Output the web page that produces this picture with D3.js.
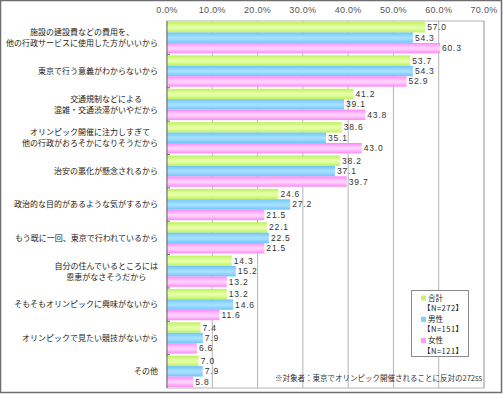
<!DOCTYPE html>
<html>
<head>
<meta charset="utf-8">
<script src="https://cdn.jsdelivr.net/npm/d3@7"></script>
<style>
  body { margin: 0; background: #fff; }
  svg text { font-family: "Noto Sans CJK JP", "Noto Sans", sans-serif; }
  svg text.num { font-family: "Liberation Sans", Arial, sans-serif; }
</style>
</head>
<body>
<div id="chart"></div>
<script>
(function(){

let categories = [
  ["施設の建設費などの費用を、", "他の行政サービスに使用した方がいいから"],
  ["東京で行う意義がわからないから"],
  ["交通規制などによる", "混雑・交通渋滞がいやだから"],
  ["オリンピック開催に注力しすぎて", "他の行政がおろそかになりそうだから"],
  ["治安の悪化が懸念されるから"],
  ["政治的な目的があるような気がするから"],
  ["もう既に一回、東京で行われているから"],
  ["自分の住んでいるところには", "恩恵がなさそうだから"],
  ["そもそもオリンピックに興味がないから"],
  ["オリンピックで見たい競技がないから"],
  ["その他"]
];
let totalValues  = [57.0, 53.7, 41.2, 38.6, 38.2, 24.6, 22.1, 14.3, 13.2, 7.4, 7.0];
let maleValues   = [54.3, 54.3, 39.1, 35.1, 37.1, 27.2, 22.5, 15.2, 14.6, 7.9, 7.9];
let femaleValues = [60.3, 52.9, 43.8, 43.0, 39.7, 21.5, 21.5, 13.2, 11.6, 6.6, 5.8];
let seriesNames  = ["合計", "男性", "女性"];
let seriesN      = ["【N=272】", "【N=151】", "【N=121】"];
let xTicks       = [0, 10, 20, 30, 40, 50, 60, 70];
let footnote     = "※対象者：東京でオリンピック開催されることに反対の272ss";

let series = [totalValues, maleValues, femaleValues];
let colors = [
  {edge: "#bff05c", mid: "#e4ffa8", key: "#c6f36a"},
  {edge: "#6cc6fb", mid: "#a6deff", key: "#7ccfff"},
  {edge: "#fb8af2", mid: "#ffd0ff", key: "#ff99ff"}
];

let W = 503, H = 394;
let margin = {top: 21, right: 19, bottom: 6, left: 167},
  width = 484 - margin.left,
  height = 388 - margin.top;

let svg = d3.select("#chart").append("svg")
  .attr("width", W)
  .attr("height", H);

// outer frame
svg.append("rect")
  .attr("x", 0.5).attr("y", 0.5)
  .attr("width", W - 2).attr("height", H - 2)
  .attr("fill", "#fff")
  .attr("stroke", "#6e6e6e")
  .attr("stroke-width", 1.5);

let defs = svg.append("defs");
colors.forEach((c, i) => {
  let g = defs.append("linearGradient")
    .attr("id", "grad" + i)
    .attr("x1", 0).attr("y1", 0).attr("x2", 0).attr("y2", 1);
  g.append("stop").attr("offset", "0%").attr("stop-color", c.edge);
  g.append("stop").attr("offset", "45%").attr("stop-color", c.mid);
  g.append("stop").attr("offset", "60%").attr("stop-color", c.mid);
  g.append("stop").attr("offset", "100%").attr("stop-color", c.edge);
});

let chart = svg.append("g")
  .attr("transform", "translate(" + margin.left + "," + margin.top + ")");

let x = d3.scaleLinear().domain([0, 70]).range([0, width]);
let y = d3.scaleBand().domain(d3.range(categories.length)).range([0, height]);
let inner = d3.scaleBand().domain([0, 1, 2])
  .range([0, y.bandwidth()]).paddingOuter(0.1).paddingInner(0);

// gridlines
chart.append("g")
  .selectAll("line")
  .data(xTicks.slice(1))
  .enter().append("line")
  .attr("x1", d => x(d)).attr("x2", d => x(d))
  .attr("y1", 0).attr("y2", height)
  .attr("stroke", "#b4b4b4")
  .attr("stroke-width", 1);

// plot border
chart.append("rect")
  .attr("x", 0).attr("y", 0)
  .attr("width", width).attr("height", height)
  .attr("fill", "none")
  .attr("stroke", "#b4b4b4");

// top axis labels
chart.append("g")
  .selectAll("text")
  .data(xTicks)
  .enter().append("text")
  .attr("class", "num")
  .attr("x", d => x(d))
  .attr("y", -8)
  .attr("text-anchor", "middle")
  .attr("font-size", 9)
  .attr("fill", "#555")
  .attr("letter-spacing", 0.3)
  .text(d => d.toFixed(1) + "%");

// bars
series.forEach((vals, s) => {
  let g = chart.append("g");
  g.selectAll("rect")
    .data(vals)
    .enter().append("rect")
    .attr("x", 0)
    .attr("y", (d, i) => y(i) + inner(s))
    .attr("width", d => x(d))
    .attr("height", inner.bandwidth())
    .attr("fill", "url(#grad" + s + ")");

  g.selectAll("text")
    .data(vals)
    .enter().append("text")
    .attr("class", "num")
    .attr("x", d => x(d) + 2)
    .attr("y", (d, i) => y(i) + inner(s) + inner.bandwidth() / 2)
    .attr("dy", "0.35em")
    .attr("font-size", 8.5)
    .attr("fill", "#333")
    .attr("letter-spacing", 0.8)
    .text(d => d.toFixed(1));
});

// left axis line + ticks
chart.append("line")
  .attr("x1", 0).attr("x2", 0)
  .attr("y1", 0).attr("y2", height)
  .attr("stroke", "#666");
chart.append("g")
  .selectAll("line")
  .data(d3.range(1, categories.length))
  .enter().append("line")
  .attr("x1", 0).attr("x2", 3)
  .attr("y1", d => y(d)).attr("y2", d => y(d))
  .attr("stroke", "#666");

// category labels (centered block, right aligned to axis)
let labels = chart.append("g");
categories.forEach((lines, i) => {
  let t = labels.append("text")
    .attr("font-size", 8)
    .attr("fill", "#222")
    .attr("text-anchor", "middle");
  let cy = y(i) + y.bandwidth() / 2;
  lines.forEach((line, j) => {
    t.append("tspan")
      .attr("y", cy + (j - (lines.length - 1) / 2) * 11)
      .attr("dy", "0.35em")
      .text(line);
  });
  let w = d3.max(t.selectAll("tspan").nodes(), n => n.getComputedTextLength());
  t.selectAll("tspan").attr("x", -9 - w / 2);
});

// legend
let legend = svg.append("g").attr("transform", "translate(411,290)");
legend.append("rect")
  .attr("x", 0.5).attr("y", 0.5)
  .attr("width", 57).attr("height", 66)
  .attr("fill", "#fff")
  .attr("stroke", "#8a8a8a");
seriesNames.forEach((name, i) => {
  let ly = 8 + i * 21.3;
  legend.append("rect")
    .attr("x", 10).attr("y", ly - 2.5)
    .attr("width", 5).attr("height", 5)
    .attr("fill", colors[i].key);
  legend.append("text")
    .attr("x", 17).attr("y", ly)
    .attr("dy", "0.35em")
    .attr("font-size", 7.5)
    .attr("fill", "#222")
    .text(name);
  legend.append("text")
    .attr("x", 12).attr("y", ly + 10.5)
    .attr("dy", "0.35em")
    .attr("font-size", 7.5)
    .attr("fill", "#222")
    .attr("letter-spacing", 0.5)
    .text(seriesN[i]);
});

// footnote
svg.append("text")
  .attr("x", 482)
  .attr("y", 381)
  .attr("text-anchor", "end")
  .attr("font-size", 7.5)
  .attr("fill", "#333")
  .text(footnote);

})();
</script>
</body>
</html>
